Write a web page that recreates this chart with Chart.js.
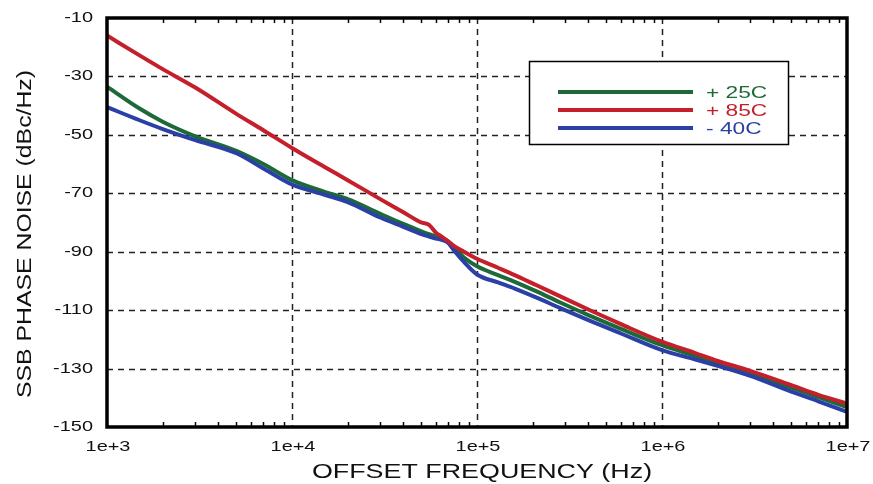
<!DOCTYPE html>
<html>
<head>
<meta charset="utf-8">
<script src="https://cdn.jsdelivr.net/npm/chart.js@4"></script>
<style>
html, body { margin: 0; padding: 0; background: #fff; }
</style>
</head>
<body>
<canvas id="phaseNoiseChart" width="873" height="484"></canvas>
<script>
// offset frequency (Hz)
const freqs = [1000, 1500, 2000, 3000, 5000, 7000, 10000, 15000, 20000, 30000, 40000, 50000, 55000, 60000, 65000,
    70000, 75000, 85000, 100000, 130000, 160000, 210000, 280000, 400000, 600000, 1000000, 1500000, 2000000,
    3000000, 5000000, 7000000, 10000000];

// SSB phase noise (dBc/Hz)
const noise25 = [-33.5, -41, -45.5, -50.5, -55.5, -60, -65.5, -69.5, -72, -77, -80.5, -83, -84, -84.8, -85.5,
    -86.5, -88.5, -92, -95, -98, -100.3, -103.6, -107.3, -111.7, -116.4, -122, -125.6, -128.2,
    -131.6, -136.5, -139.8, -143.2];
const noise85 = [-16, -22.8, -27.5, -33.8, -42.8, -48.4, -54.5, -61, -65.5, -72, -76.5, -80, -80.8, -83.5, -85,
    -86.5, -88, -90, -92.4, -95.5, -98, -101.5, -105.2, -109.8, -114.8, -120.8, -124.6, -127.4,
    -130.8, -135.7, -139, -142];
const noiseM40 = [-40.5, -45, -48, -51.8, -56.3, -61.5, -67, -70.5, -73, -78.3, -81.5, -84, -84.8, -85.5, -86,
    -87, -89.5, -93.5, -97.8, -100.5, -102.6, -105.7, -109.2, -113.4, -118, -123.7, -126.8, -129.1,
    -132.5, -137.9, -141.2, -144.8];

const seriesNames = ['+ 25C', '+ 85C', '- 40C'];
const seriesColors = ['#1d6a38', '#c41f2b', '#2b40a6'];
const xTicks = [1e3, 1e4, 1e5, 1e6, 1e7];
const yTicks = [-150, -130, -110, -90, -70, -50, -30, -10];

const FONT = '"Liberation Sans", Arial, Helvetica, sans-serif';
const TEXT_COLOR = '#111';
const STRETCH = 1.33; // the original lettering is wide

function toPoints(vals) {
    return freqs.map((f, i) => ({ x: f, y: vals[i] }));
}

// wide text: scale along the text direction
function wideText(ctx, text, x, y, opts) {
    ctx.save();
    ctx.translate(x, y);
    if (opts.rotate) ctx.rotate(opts.rotate);
    ctx.scale(opts.stretch || STRETCH, 1);
    ctx.font = opts.size + 'px ' + FONT;
    ctx.fillStyle = opts.color || TEXT_COLOR;
    ctx.textAlign = opts.align || 'center';
    ctx.textBaseline = opts.baseline || 'alphabetic';
    ctx.fillText(text, 0, 0);
    ctx.restore();
}

// dashed grid, frame, minor ticks, labels and the boxed legend
const framePlugin = {
    id: 'frame',
    beforeDatasetsDraw(chart) {
        const { ctx, chartArea: a, scales } = chart;
        ctx.save();
        ctx.strokeStyle = '#222';
        ctx.lineWidth = 1.5;
        ctx.setLineDash([6, 5]);
        xTicks.slice(1, -1).forEach(v => {
            const x = Math.round(scales.x.getPixelForValue(v)) + 0.5;
            ctx.beginPath(); ctx.moveTo(x, a.top); ctx.lineTo(x, a.bottom); ctx.stroke();
        });
        yTicks.slice(1, -1).forEach(v => {
            const y = Math.round(scales.y.getPixelForValue(v)) + 0.5;
            ctx.beginPath(); ctx.moveTo(a.left, y); ctx.lineTo(a.right, y); ctx.stroke();
        });
        ctx.restore();
    },
    afterDatasetsDraw(chart) {
        const { ctx, chartArea: a, scales } = chart;
        ctx.save();
        // minor log ticks, top and bottom, pointing in
        ctx.strokeStyle = '#000';
        ctx.lineWidth = 1.5;
        for (let d = 3; d < 7; d++) {
            for (let m = 2; m < 10; m++) {
                const x = Math.round(scales.x.getPixelForValue(m * Math.pow(10, d))) + 0.5;
                ctx.beginPath(); ctx.moveTo(x, a.bottom); ctx.lineTo(x, a.bottom - 5); ctx.stroke();
                ctx.beginPath(); ctx.moveTo(x, a.top); ctx.lineTo(x, a.top + 5); ctx.stroke();
            }
        }
        // legend box
        const lx = 529, ly = 61, lw = 259, lh = 83;
        ctx.fillStyle = '#fff';
        ctx.fillRect(lx, ly, lw, lh);
        ctx.lineWidth = 1.5;
        ctx.strokeRect(lx + 0.5, ly + 0.5, lw, lh);
        const rows = [92, 110, 128];
        seriesNames.forEach((name, i) => {
            ctx.strokeStyle = seriesColors[i];
            ctx.lineWidth = 4;
            ctx.beginPath(); ctx.moveTo(558, rows[i]); ctx.lineTo(693, rows[i]); ctx.stroke();
            wideText(ctx, name, 706, rows[i] + 6, { size: 16, align: 'left', color: seriesColors[i], stretch: 1.42 });
        });
        // heavy frame
        ctx.strokeStyle = '#000';
        ctx.lineWidth = 3.5;
        ctx.strokeRect(a.left, a.top, a.right - a.left, a.bottom - a.top);
        ctx.restore();

        // tick labels
        yTicks.forEach(v => {
            const y = scales.y.getPixelForValue(v);
            wideText(ctx, String(v), 93, y + 4, { size: 15, align: 'right' });
        });
        xTicks.forEach(v => {
            const x = scales.x.getPixelForValue(v);
            wideText(ctx, '1e+' + Math.round(Math.log10(v)), x + 1, 451, { size: 15 });
        });
        // axis titles
        wideText(ctx, 'OFFSET FREQUENCY (Hz)', 482, 478, { size: 20.5, stretch: 1.31 });
        wideText(ctx, 'SSB PHASE NOISE (dBc/Hz)', 31, 234, { size: 20.5, stretch: 1.21, rotate: -Math.PI / 2 });
    }
};

const ctx = document.getElementById('phaseNoiseChart').getContext('2d');
new Chart(ctx, {
    type: 'line',
    data: {
        datasets: [
            { label: seriesNames[0], data: toPoints(noise25), borderColor: seriesColors[0], order: 2 },
            { label: seriesNames[1], data: toPoints(noise85), borderColor: seriesColors[1], order: 0 },
            { label: seriesNames[2], data: toPoints(noiseM40), borderColor: seriesColors[2], order: 1 }
        ]
    },
    options: {
        responsive: false,
        animation: false,
        layout: { padding: { top: 18, right: 26, left: 0, bottom: 0 } },
        elements: {
            point: { radius: 0 },
            line: { borderWidth: 4, cubicInterpolationMode: 'monotone' }
        },
        plugins: { legend: { display: false }, tooltip: { enabled: false } },
        scales: {
            x: {
                type: 'logarithmic',
                min: 1e3,
                max: 1e7,
                afterBuildTicks: s => { s.ticks = xTicks.map(v => ({ value: v })); },
                afterFit: s => { s.height = 57; },
                grid: { display: false, drawTicks: false },
                border: { display: false },
                ticks: { display: false }
            },
            y: {
                min: -150,
                max: -10,
                afterBuildTicks: s => { s.ticks = yTicks.map(v => ({ value: v })); },
                afterFit: s => { s.width = 107; },
                grid: { display: false, drawTicks: false },
                border: { display: false },
                ticks: { display: false }
            }
        }
    },
    plugins: [framePlugin]
});
</script>
</body>
</html>
